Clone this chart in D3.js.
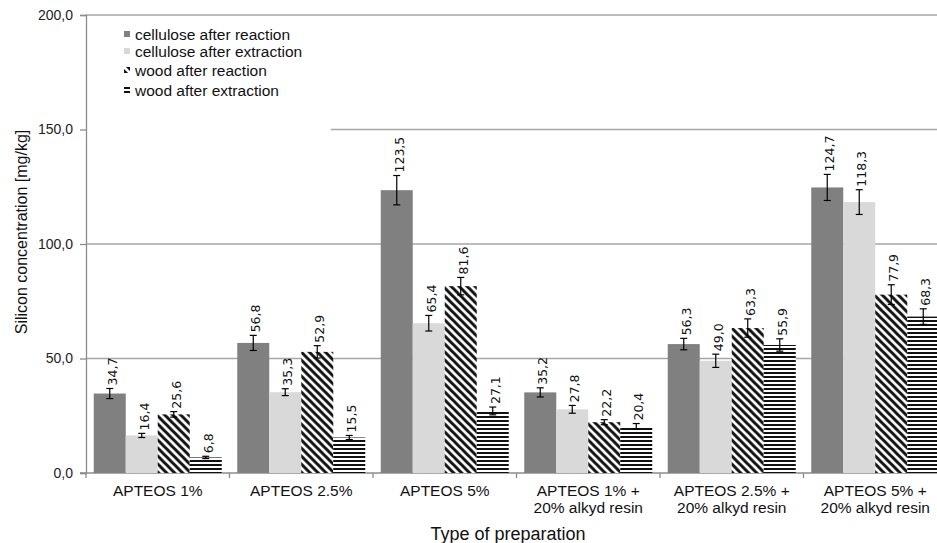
<!DOCTYPE html>
<html>
<head>
<meta charset="utf-8">
<script src="https://cdn.jsdelivr.net/npm/d3@7"></script>
<style>
  body { margin: 0; background: #fff; }
  svg { display: block; overflow: hidden; }
</style>
</head>
<body>
<svg id="chart"></svg>
<script>
// Chart data
const categories = [
    ["APTEOS 1%"],
    ["APTEOS 2.5%"],
    ["APTEOS 5%"],
    ["APTEOS 1% +", "20% alkyd resin"],
    ["APTEOS 2.5% +", "20% alkyd resin"],
    ["APTEOS 5% +", "20% alkyd resin"]
];
const seriesNames = ["cellulose after reaction", "cellulose after extraction",
    "wood after reaction", "wood after extraction"];
const celluloseReaction = [34.7, 56.8, 123.5, 35.2, 56.3, 124.7];
const celluloseExtraction = [16.4, 35.3, 65.4, 27.8, 49.0, 118.3];
const woodReaction = [25.6, 52.9, 81.6, 22.2, 63.3, 77.9];
const woodExtraction = [6.8, 15.5, 27.1, 20.4, 55.9, 68.3];
const errCelluloseReaction = [2.2, 3.3, 6.4, 2.0, 2.5, 5.7];
const errCelluloseExtraction = [0.9, 1.5, 3.4, 1.7, 2.9, 5.4];
const errWoodReaction = [1.2, 2.7, 3.8, 1.1, 4.0, 4.3];
const errWoodExtraction = [0.5, 0.9, 1.7, 1.2, 2.7, 3.4];
const yTicks = [0, 50, 100, 150, 200];

const W = 937, H = 543;
const margin = { top: 15, left: 86, bottom: 70 };
const plotBottom = H - margin.bottom;

const values = [celluloseReaction, celluloseExtraction, woodReaction, woodExtraction];
const errors = [errCelluloseReaction, errCelluloseExtraction, errWoodReaction, errWoodExtraction];
const fills = ["#808080", "#d9d9d9", "url(#diag)", "url(#horiz)"];

const fmt = v => d3.format(".1f")(v).replace(".", ",");

const svg = d3.select("#chart").attr("width", W).attr("height", H);

// Hatch patterns
const defs = svg.append("defs");
const diag = defs.append("pattern")
    .attr("id", "diag")
    .attr("patternUnits", "userSpaceOnUse")
    .attr("width", 8).attr("height", 8);
diag.append("rect").attr("width", 8).attr("height", 8).attr("fill", "#fff");
diag.append("path")
    .attr("d", "M-2,-2 L10,10 M-2,6 L2,10 M6,-2 L10,2")
    .attr("stroke", "#111").attr("stroke-width", 3);

const horiz = defs.append("pattern")
    .attr("id", "horiz")
    .attr("patternUnits", "userSpaceOnUse")
    .attr("width", 8).attr("height", 4);
horiz.append("rect").attr("width", 8).attr("height", 4).attr("fill", "#fff");
horiz.append("rect").attr("y", 0).attr("width", 8).attr("height", 2).attr("fill", "#111");

// Scales
const x0 = d3.scaleBand()
    .domain(d3.range(categories.length))
    .range([margin.left, 947])
    .paddingInner(0.108)
    .paddingOuter(0.054);
const x1 = d3.scaleBand()
    .domain(d3.range(seriesNames.length))
    .range([0, x0.bandwidth()]);
const y = d3.scaleLinear().domain([0, 200]).range([plotBottom, margin.top]);

// Gridlines
svg.append("g")
    .selectAll("line")
    .data(yTicks.slice(1))
    .enter().append("line")
    .attr("x1", margin.left).attr("x2", W)
    .attr("y1", d => y(d)).attr("y2", d => y(d))
    .attr("stroke", "#a6a6a6").attr("stroke-width", 1.3);

// Legend background hides part of the gridline
svg.append("rect")
    .attr("x", margin.left + 1).attr("y", y(200) + 4)
    .attr("width", 244).attr("height", 118)
    .attr("fill", "#fff");

// Y axis
const yAxis = svg.append("g")
    .attr("transform", "translate(" + margin.left + ",0)")
    .call(d3.axisLeft(y).tickValues(yTicks).tickSize(6).tickFormat(fmt));
yAxis.select(".domain").attr("stroke", "#8c8c8c").attr("stroke-width", 1.3);
yAxis.selectAll(".tick line").attr("stroke", "#8c8c8c").attr("stroke-width", 1.3);
yAxis.selectAll(".tick text")
    .attr("x", -13)
    .style("font-family", "Liberation Sans, Arial, sans-serif")
    .style("font-size", "14px")
    .attr("fill", "#222");

// X axis line and ticks
svg.append("line")
    .attr("x1", margin.left - 6).attr("x2", W)
    .attr("y1", plotBottom).attr("y2", plotBottom)
    .attr("stroke", "#8c8c8c").attr("stroke-width", 1.3);
const step = x0.step();
svg.append("g")
    .selectAll("line")
    .data(d3.range(categories.length + 1))
    .enter().append("line")
    .attr("x1", d => margin.left + d * step)
    .attr("x2", d => margin.left + d * step)
    .attr("y1", plotBottom).attr("y2", plotBottom + 5)
    .attr("stroke", "#8c8c8c").attr("stroke-width", 1.3);

// Bars
const groups = svg.append("g")
    .selectAll("g")
    .data(categories)
    .enter().append("g")
    .attr("transform", (d, i) => "translate(" + x0(i) + ",0)");

groups.each(function (cat, ci) {
    const g = d3.select(this);
    values.forEach((series, si) => {
        const v = series[ci];
        const e = errors[si][ci];
        const cx = x1(si) + x1.bandwidth() / 2;
        g.append("rect")
            .attr("x", x1(si))
            .attr("y", y(v))
            .attr("width", x1.bandwidth())
            .attr("height", plotBottom - y(v))
            .attr("fill", fills[si]);
        // Error bar
        g.append("line")
            .attr("x1", cx).attr("x2", cx)
            .attr("y1", y(v + e)).attr("y2", y(v - e))
            .attr("stroke", "#000").attr("stroke-width", 1.2);
        [v + e, v - e].forEach(t => {
            g.append("line")
                .attr("x1", cx - 3.5).attr("x2", cx + 3.5)
                .attr("y1", y(t)).attr("y2", y(t))
                .attr("stroke", "#000").attr("stroke-width", 1.2);
        });
        // Value label
        g.append("text")
            .attr("transform", "translate(" + (cx + 2.5) + "," + (y(v + e) - 3) + ") rotate(-90)")
            .attr("dy", "0.35em")
            .style("font-family", "DejaVu Sans, sans-serif")
            .style("font-size", "12.5px")
            .attr("fill", "#111")
            .text(fmt(v));
    });
});

// Category labels
const catLabels = svg.append("g")
    .selectAll("text")
    .data(categories)
    .enter().append("text")
    .attr("x", (d, i) => x0(i) + x0.bandwidth() / 2)
    .attr("y", 496)
    .attr("text-anchor", "middle")
    .style("font-family", "Liberation Sans, Arial, sans-serif")
    .style("font-size", "15.5px")
    .attr("fill", "#111");
catLabels.each(function (d) {
    const t = d3.select(this);
    d.forEach((line, li) => {
        t.append("tspan")
            .attr("x", t.attr("x"))
            .attr("dy", li === 0 ? 0 : 17)
            .text(line);
    });
});

// Axis titles
svg.append("text")
    .attr("x", 508).attr("y", 540)
    .attr("text-anchor", "middle")
    .style("font-family", "Liberation Sans, Arial, sans-serif")
    .style("font-size", "18px")
    .attr("fill", "#111")
    .text("Type of preparation");

svg.append("text")
    .attr("transform", "translate(27,232) rotate(-90)")
    .attr("text-anchor", "middle")
    .style("font-family", "Liberation Sans, Arial, sans-serif")
    .style("font-size", "16px")
    .attr("fill", "#111")
    .text("Silicon concentration [mg/kg]");

// Legend
const legend = svg.append("g")
    .selectAll("g")
    .data(seriesNames)
    .enter().append("g")
    .attr("transform", (d, i) => "translate(124," + [35, 52, 71, 91][i] + ")");
legend.append("rect")
    .attr("x", 0).attr("y", -4)
    .attr("width", 6).attr("height", 6)
    .attr("fill", (d, i) => fills[i]);
legend.append("text")
    .attr("x", 11).attr("y", 0)
    .attr("dy", "0.35em")
    .style("font-family", "Liberation Sans, Arial, sans-serif")
    .style("font-size", "15.5px")
    .attr("fill", "#111")
    .text(d => d);
</script>
</body>
</html>
